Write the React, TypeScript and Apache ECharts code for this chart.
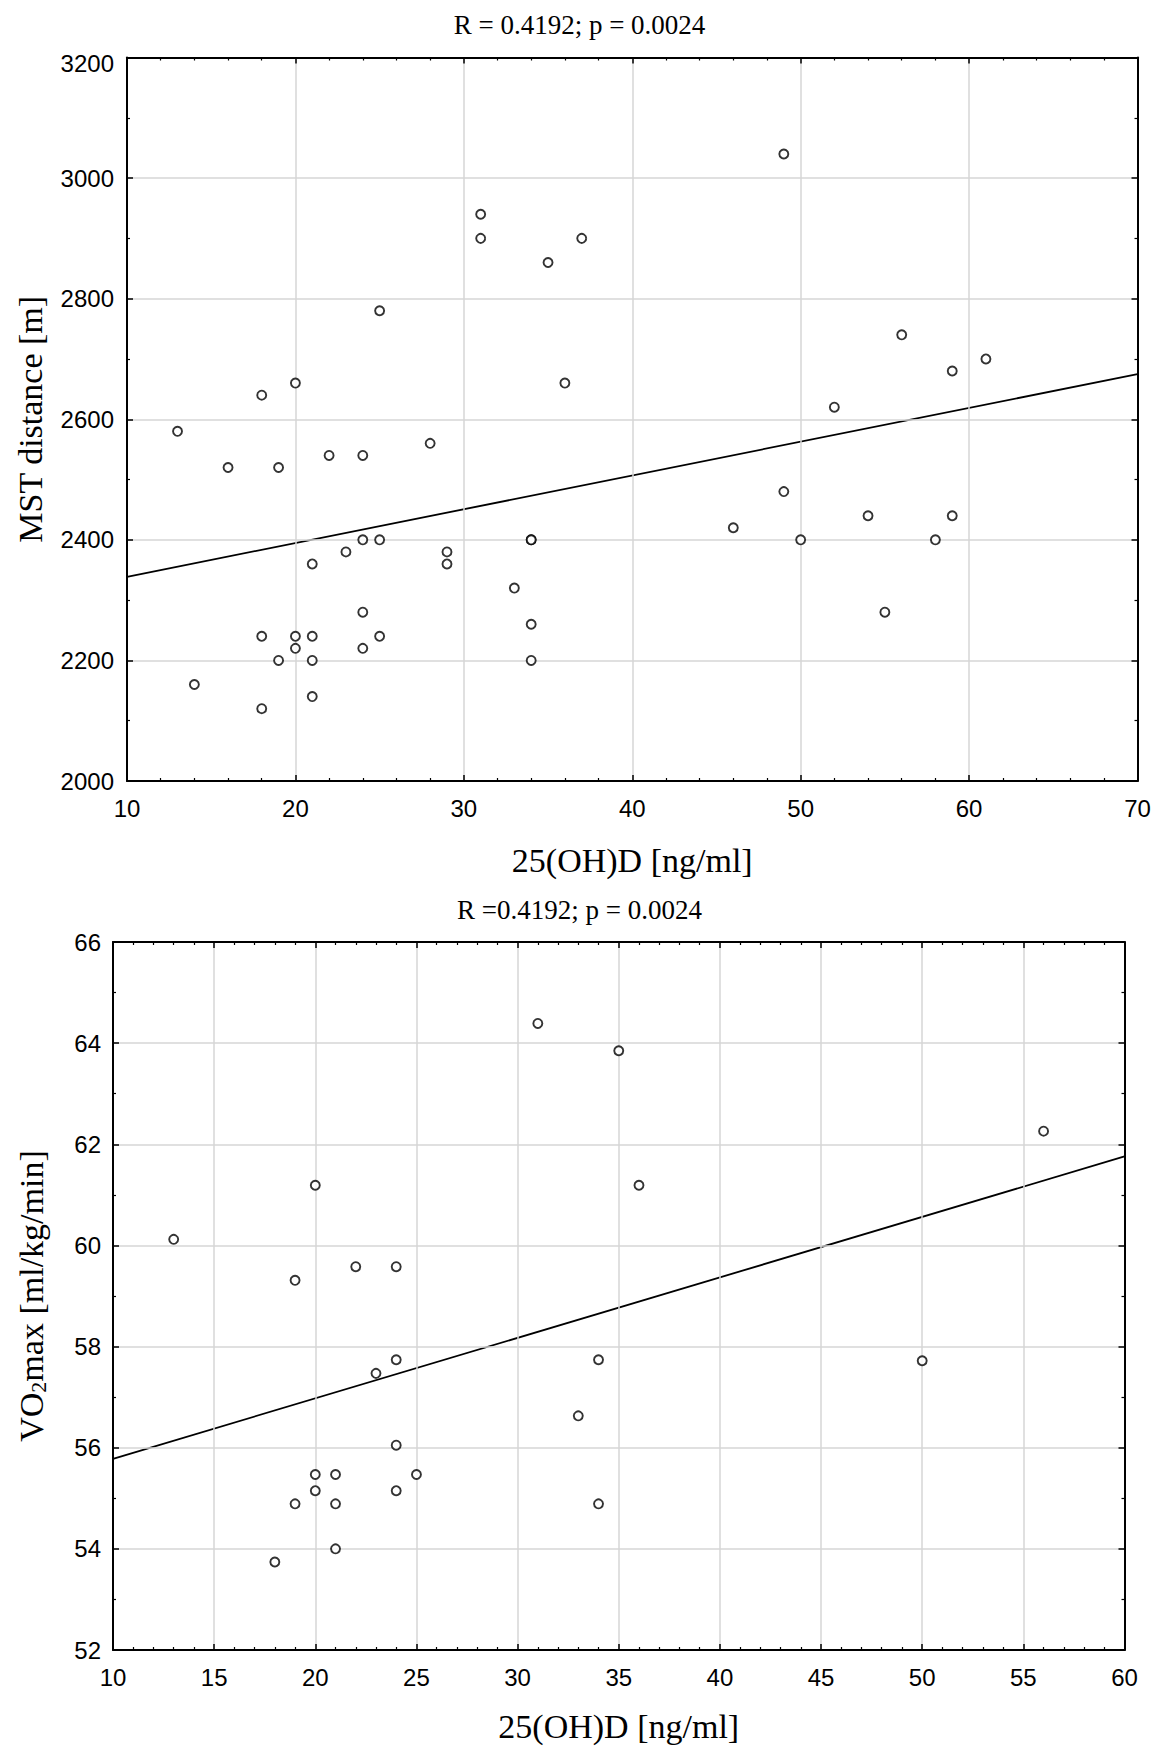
import React, { useEffect, useRef } from "react";
import * as echarts from "echarts";

// ---- Chart 1: MST distance vs 25(OH)D ----
const mstVitD = [13, 14, 16, 18, 18, 18, 19, 19, 20, 20, 20, 21, 21, 21, 21, 22, 23, 24, 24, 24, 24, 25, 25, 25, 28, 29, 29, 31, 31, 33, 34, 34, 34, 34, 35, 36, 37, 46, 49, 49, 50, 52, 54, 55, 56, 58, 59, 59, 61];
const mstDistance = [2580, 2160, 2520, 2640, 2240, 2120, 2520, 2200, 2660, 2240, 2220, 2360, 2240, 2200, 2140, 2540, 2380, 2540, 2400, 2280, 2220, 2780, 2400, 2240, 2560, 2380, 2360, 2940, 2900, 2320, 2400, 2400, 2260, 2200, 2860, 2660, 2900, 2420, 3040, 2480, 2400, 2620, 2440, 2280, 2740, 2400, 2680, 2440, 2700];
const mstFitX = [10, 70];
const mstFitY = [2338.7, 2674.8];
const mstTitle = "R = 0.4192; p = 0.0024";

// ---- Chart 2: VO2max vs 25(OH)D ----
const vo2VitD = [13, 18, 19, 19, 20, 20, 20, 21, 21, 21, 22, 23, 24, 24, 24, 24, 25, 31, 33, 34, 34, 35, 36, 50, 56];
const vo2Max = [60.12, 53.74, 59.31, 54.89, 61.19, 55.47, 55.15, 55.47, 54.89, 54.0, 59.58, 57.47, 59.58, 57.74, 56.05, 55.15, 55.47, 64.39, 56.63, 57.74, 54.89, 63.85, 61.19, 57.72, 62.26];
const vo2FitX = [10, 60];
const vo2FitY = [55.78, 61.76];
const vo2Title = "R =0.4192; p = 0.0024";

const xAxisName = "25(OH)D [ng/ml]";
const mstYName = "MST distance [m]";
const vo2YName = "VO{sub|2}max [ml/kg/min]";

const SANS = "Liberation Sans";
const SERIF = "Liberation Serif";

function zip(a: number[], b: number[]) {
  return a.map((v, i) => [v, b[i]]);
}

function borderAxis(
  gridIndex: number,
  position: string,
  min: number,
  max: number,
  interval: number,
  minorSplit: number,
  extra: any = {}
) {
  return {
    type: "value",
    gridIndex,
    position,
    min,
    max,
    interval,
    z: 3,
    axisLine: { show: true, onZero: false, lineStyle: { color: "#000", width: 2 } },
    axisTick: { show: true, inside: true, length: 6, lineStyle: { color: "#000", width: 1.5 } },
    minorTick: { show: true, splitNumber: minorSplit, length: 3, lineStyle: { color: "#000", width: 1.2 } },
    splitLine: { show: false },
    axisLabel: { show: false },
    ...extra,
  };
}

const splitLineStyle = {
  show: true,
  showMinLine: false,
  showMaxLine: false,
  lineStyle: { color: "#d6d6d6", width: 1.5 },
};

const labelStyle = { show: true, color: "#000", fontFamily: SANS, fontSize: 24 };
const nameStyle = { color: "#000", fontFamily: SERIF, fontSize: 34 };

export default function App() {
  const ref = useRef<HTMLDivElement>(null);

  useEffect(() => {
    document.body.style.margin = "0";
    if (!ref.current) return;
    const chart = echarts.init(ref.current, null, { renderer: "svg" });

    const option: any = {
      animation: false,
      backgroundColor: "#fff",
      title: [
        {
          text: mstTitle,
          left: "center",
          top: 11,
          padding: 0,
          textStyle: { fontFamily: SERIF, fontSize: 27, fontWeight: "normal", color: "#000" },
        },
        {
          text: vo2Title,
          left: "center",
          top: 896,
          padding: 0,
          textStyle: { fontFamily: SERIF, fontSize: 27, fontWeight: "normal", color: "#000" },
        },
      ],
      grid: [
        { left: 127, top: 57.5, width: 1010.5, height: 723.5 },
        { left: 113, top: 942, width: 1011.5, height: 708 },
      ],
      xAxis: [
        borderAxis(0, "bottom", 10, 70, 10, 5, {
          splitLine: splitLineStyle,
          axisLabel: { ...labelStyle, margin: 15 },
          name: xAxisName,
          nameLocation: "middle",
          nameGap: 62,
          nameTextStyle: nameStyle,
        }),
        borderAxis(0, "top", 10, 70, 10, 5),
        borderAxis(1, "bottom", 10, 60, 5, 5, {
          splitLine: splitLineStyle,
          axisLabel: { ...labelStyle, margin: 15 },
          name: xAxisName,
          nameLocation: "middle",
          nameGap: 59,
          nameTextStyle: nameStyle,
        }),
        borderAxis(1, "top", 10, 60, 5, 5),
      ],
      yAxis: [
        borderAxis(0, "left", 2000, 3200, 200, 2, {
          splitLine: splitLineStyle,
          axisLabel: {
            ...labelStyle,
            margin: 13,
            formatter: (v: number) => (v === 3200 ? "{s|" + v + "}" : String(v)),
            rich: { s: { fontFamily: SANS, fontSize: 24, color: "#000", padding: [12, 0, 0, 0] } },
          },
          name: mstYName,
          nameLocation: "middle",
          nameGap: 80,
          nameTextStyle: nameStyle,
        }),
        borderAxis(0, "right", 2000, 3200, 200, 2),
        borderAxis(1, "left", 52, 66, 2, 2, {
          splitLine: splitLineStyle,
          axisLabel: { ...labelStyle, margin: 12 },
          name: vo2YName,
          nameLocation: "middle",
          nameGap: 64,
          nameTextStyle: {
            ...nameStyle,
            rich: { sub: { fontFamily: SERIF, fontSize: 22, color: "#000", padding: [14, 0, 0, 0] } },
          },
        }),
        borderAxis(1, "right", 52, 66, 2, 2),
      ],
      series: [
        {
          type: "line",
          xAxisIndex: 0,
          yAxisIndex: 0,
          data: zip(mstFitX, mstFitY),
          showSymbol: false,
          symbol: "none",
          lineStyle: { color: "#000", width: 1.8 },
          z: 2,
          silent: true,
        },
        {
          type: "scatter",
          xAxisIndex: 0,
          yAxisIndex: 0,
          data: zip(mstVitD, mstDistance),
          symbol: "circle",
          symbolSize: 9,
          itemStyle: { color: "#fff", borderColor: "#000", borderWidth: 1.9 },
          z: 4,
        },
        {
          type: "line",
          xAxisIndex: 2,
          yAxisIndex: 2,
          data: zip(vo2FitX, vo2FitY),
          showSymbol: false,
          symbol: "none",
          lineStyle: { color: "#000", width: 1.8 },
          z: 2,
          silent: true,
        },
        {
          type: "scatter",
          xAxisIndex: 2,
          yAxisIndex: 2,
          data: zip(vo2VitD, vo2Max),
          symbol: "circle",
          symbolSize: 9,
          itemStyle: { color: "#fff", borderColor: "#000", borderWidth: 1.9 },
          z: 4,
        },
      ],
    };

    chart.setOption(option);
    return () => {
      chart.dispose();
    };
  }, []);

  return <div ref={ref} style={{ width: 1159, height: 1747 }} />;
}
